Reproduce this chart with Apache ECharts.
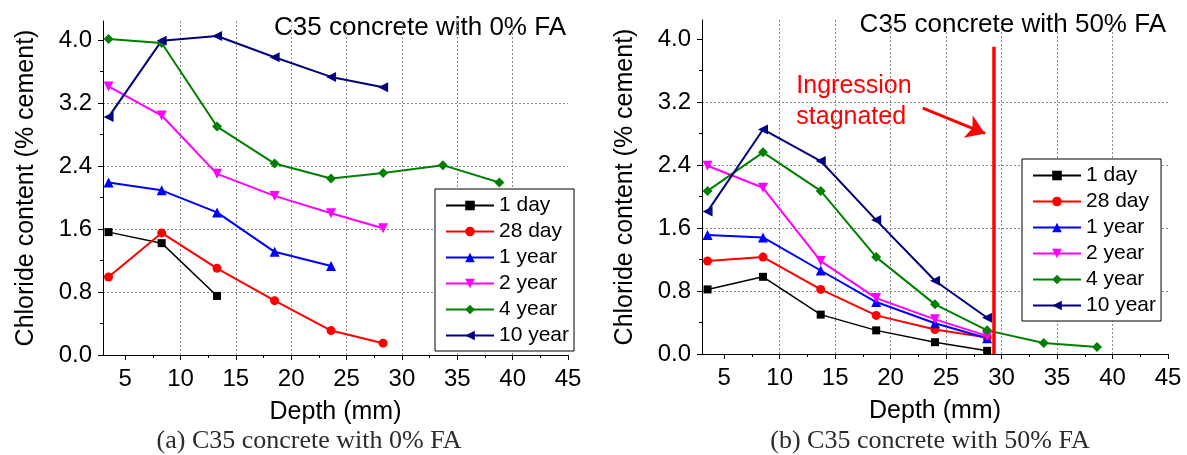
<!DOCTYPE html>
<html>
<head>
<meta charset="utf-8">
<script src="https://cdn.jsdelivr.net/npm/echarts@6/dist/echarts.min.js"></script>
<style>
  html, body { margin: 0; padding: 0; background: #fff; }
  #chart { width: 1187px; height: 455px; }
</style>
</head>
<body>
<div id="chart"></div>
<script>
// legend names
var seriesNames = ['1 day', '28 day', '1 year', '2 year', '4 year', '10 year'];

// axis ticks
var xTicks = [5, 10, 15, 20, 25, 30, 35, 40, 45];
var xMinor = [7.5, 12.5, 17.5, 22.5, 27.5, 32.5, 37.5, 42.5];
var yTicks = [0, 0.8, 1.6, 2.4, 3.2, 4.0];
var yMinor = [0.4, 1.2, 2.0, 2.8, 3.6];

// (a) 0% FA - depths (mm)
var depthA = [3.5, 8.3, 13.3, 18.5, 23.6, 28.3, 33.7, 38.8];
var a1day   = [1.56, 1.42, 0.75];
var a28day  = [0.99, 1.55, 1.10, 0.69, 0.31, 0.15];
var a1year  = [2.19, 2.09, 1.81, 1.31, 1.13];
var a2year  = [3.41, 3.04, 2.30, 2.02, 1.80, 1.61];
var a4year  = [4.01, 3.96, 2.90, 2.43, 2.24, 2.31, 2.41, 2.19];
var a10year = [3.02, 3.99, 4.05, 3.78, 3.53, 3.40];

// (b) 50% FA
var depthB = [3.5, 8.5, 13.7, 18.7, 24.0, 28.7, 33.8, 38.6];
var b1day   = [0.82, 0.98, 0.50, 0.30, 0.15, 0.04];
var b28day  = [1.18, 1.23, 0.82, 0.49, 0.31, 0.21];
var b1year  = [1.51, 1.48, 1.06, 0.66, 0.39, 0.20];
var b2year  = [2.39, 2.11, 1.18, 0.71, 0.44, 0.23];
var b4year  = [2.07, 2.56, 2.07, 1.23, 0.63, 0.30, 0.14, 0.09];
var b10year = [1.81, 2.85, 2.45, 1.70, 0.93, 0.46];

// annotation in (b): stagnation line, arrow, note
var stagLine  = [[29.3, 0], [29.3, 3.9]];
var arrowLine = [[22.9, 3.12], [28.5, 2.80]];
var noteText  = [11.5, 3.21];

var colors  = ['#000000', '#ff0000', '#0000ff', '#ff00ff', '#008000', '#000080'];
var symbols = ['rect', 'circle', 'triangle', 'triangle', 'diamond', 'triangle'];
var rotates = [0, 0, 0, 180, 0, 90];
var sizes   = [8, 9, 10, 10, 10, 10];

var SANS = 'Liberation Sans, Arial, sans-serif';
var SERIF = 'Liberation Serif, Times New Roman, serif';
var GRIDLINE = { color: '#8c8c8c', type: [2, 2], width: 1 };

function pairs(xs, ys) {
  var out = [];
  for (var i = 0; i < ys.length; i++) {
    out.push([xs[i], ys[i]]);
  }
  return out;
}

function makeSeries(idx, data, gi) {
  return {
    name: seriesNames[idx],
    type: 'line',
    xAxisIndex: gi * 2,
    yAxisIndex: gi * 2,
    data: data,
    symbol: symbols[idx],
    symbolRotate: rotates[idx],
    symbolSize: sizes[idx],
    showAllSymbol: true,
    lineStyle: { color: colors[idx], width: idx === 0 ? 1.5 : 2 },
    itemStyle: { color: colors[idx] },
    animation: false,
    z: 3
  };
}

// main x axis + an overlay one that only draws the minor ticks
function xAxesCfg(gi) {
  return [{
    type: 'value', gridIndex: gi, position: 'bottom', min: 3, max: 45, interval: 5,
    name: 'Depth (mm)', nameLocation: 'middle', nameGap: 45,
    nameTextStyle: { fontFamily: SANS, fontSize: 25, color: '#000' },
    axisLine: { show: true, onZero: false, lineStyle: { color: '#000', width: 1 } },
    axisTick: { show: true, inside: false, length: 5, customValues: xTicks, lineStyle: { color: '#000' } },
    minorTick: { show: false },
    axisLabel: { fontFamily: SANS, fontSize: 24, color: '#000', margin: 12, customValues: xTicks },
    splitLine: { show: true, showMinLine: false, showMaxLine: false, lineStyle: GRIDLINE }
  }, {
    type: 'value', gridIndex: gi, position: 'bottom', offset: 0, min: 3, max: 45, interval: 5,
    axisLine: { show: false, onZero: false },
    axisTick: { show: true, inside: false, length: 3, customValues: xMinor, lineStyle: { color: '#000' } },
    axisLabel: { show: false },
    splitLine: { show: false }
  }];
}

function yAxesCfg(gi) {
  return [{
    type: 'value', gridIndex: gi, position: 'left', min: 0, max: 4.24, interval: 0.8,
    name: 'Chloride content (% cement)', nameLocation: 'middle', nameGap: 64,
    nameTextStyle: { fontFamily: SANS, fontSize: 25, color: '#000' },
    axisLine: { show: true, onZero: false, lineStyle: { color: '#000', width: 1 } },
    axisTick: { show: true, inside: false, length: 5, customValues: yTicks, lineStyle: { color: '#000' } },
    minorTick: { show: false },
    axisLabel: {
      fontFamily: SANS, fontSize: 24, color: '#000', margin: 11, customValues: yTicks,
      formatter: function (v) { return v.toFixed(1); }
    },
    splitLine: { show: true, showMinLine: false, showMaxLine: false, lineStyle: GRIDLINE }
  }, {
    type: 'value', gridIndex: gi, position: 'left', offset: 0, min: 0, max: 4.24, interval: 0.8,
    axisLine: { show: false, onZero: false },
    axisTick: { show: true, inside: false, length: 3, customValues: yMinor, lineStyle: { color: '#000' } },
    axisLabel: { show: false },
    splitLine: { show: false }
  }];
}

function legendCfg(left, top) {
  return {
    orient: 'vertical', left: left, top: top,
    data: seriesNames,
    backgroundColor: '#fff',
    borderColor: '#000', borderWidth: 1, borderRadius: 0,
    padding: [6, 5, 5, 10],
    itemWidth: 48, itemHeight: 12, itemGap: 5,
    textStyle: { fontFamily: SANS, fontSize: 21, color: '#000' },
    selectedMode: false
  };
}

var seriesA = [a1day, a28day, a1year, a2year, a4year, a10year];
var seriesB = [b1day, b28day, b1year, b2year, b4year, b10year];
var allSeries = [];
for (var i = 0; i < seriesNames.length; i++) {
  allSeries.push(makeSeries(i, pairs(depthA, seriesA[i]), 0));
}
for (var j = 0; j < seriesNames.length; j++) {
  allSeries.push(makeSeries(j, pairs(depthB, seriesB[j]), 1));
}

// annotations on the right panel
allSeries.push({
  type: 'line', xAxisIndex: 2, yAxisIndex: 2, data: [], silent: true,
  markLine: {
    silent: true, animation: false,
    symbol: ['none', 'none'],
    label: { show: false },
    lineStyle: { color: '#ff0000', width: 3.5, type: 'solid' },
    data: [[{ coord: stagLine[0] }, { coord: stagLine[1] }]]
  },
  markPoint: {
    silent: true, animation: false,
    symbol: 'circle', symbolSize: 0,
    label: {
      show: true, position: 'inside', formatter: 'Ingression\nstagnated', color: '#ff0000',
      fontFamily: SANS, fontSize: 25, lineHeight: 31, align: 'left', verticalAlign: 'middle'
    },
    data: [{ coord: noteText }]
  },
  z: 5
});
allSeries.push({
  type: 'line', xAxisIndex: 2, yAxisIndex: 2, data: [], silent: true,
  markLine: {
    silent: true, animation: false,
    symbol: ['none', 'arrow'], symbolSize: 18,
    label: { show: false },
    lineStyle: { color: '#ff0000', width: 3, type: 'solid' },
    data: [[{ coord: arrowLine[0] }, { coord: arrowLine[1] }]]
  },
  z: 5
});

var chart = echarts.init(document.getElementById('chart'), null, { renderer: 'canvas' });
chart.setOption({
  animation: false,
  backgroundColor: '#fff',
  grid: [
    { left: 103, top: 21, width: 465, height: 334, containLabel: false },
    { left: 702, top: 20, width: 466, height: 334, containLabel: false }
  ],
  xAxis: xAxesCfg(0).concat(xAxesCfg(1)),
  yAxis: yAxesCfg(0).concat(yAxesCfg(1)),
  legend: [legendCfg(435, 189), legendCfg(1022, 159)],
  graphic: [
    { type: 'text', x: 566, y: 28,
      style: { text: 'C35 concrete with 0% FA', font: '26px ' + SANS, fill: '#000', align: 'right', verticalAlign: 'middle' } },
    { type: 'text', x: 1166, y: 25,
      style: { text: 'C35 concrete with 50% FA', font: '26px ' + SANS, fill: '#000', align: 'right', verticalAlign: 'middle' } },
    { type: 'text', x: 309, y: 441,
      style: { text: '(a) C35 concrete with 0% FA', font: '26px ' + SERIF, fill: '#2b2b2b', align: 'center', verticalAlign: 'middle' } },
    { type: 'text', x: 930, y: 441,
      style: { text: '(b) C35 concrete with 50% FA', font: '26px ' + SERIF, fill: '#2b2b2b', align: 'center', verticalAlign: 'middle' } }
  ],
  series: allSeries
});
</script>
</body>
</html>
